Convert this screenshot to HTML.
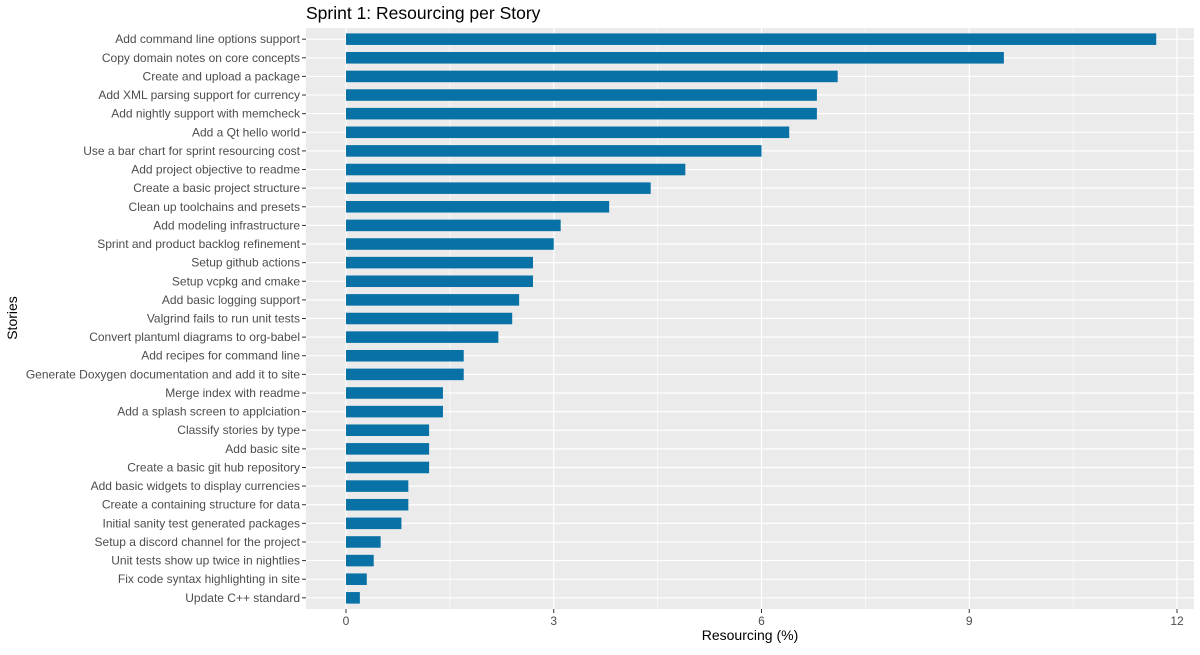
<!DOCTYPE html>
<html><head><meta charset="utf-8"><style>
body{margin:0;background:#fff;}
svg text{font-family:"Liberation Sans",sans-serif;}
</style></head><body>
<svg id="chart" width="1200" height="650" xmlns="http://www.w3.org/2000/svg"></svg>
<script>
const stories = ["Add command line options support","Copy domain notes on core concepts","Create and upload a package","Add XML parsing support for currency","Add nightly support with memcheck","Add a Qt hello world","Use a bar chart for sprint resourcing cost","Add project objective to readme","Create a basic project structure","Clean up toolchains and presets","Add modeling infrastructure","Sprint and product backlog refinement","Setup github actions","Setup vcpkg and cmake","Add basic logging support","Valgrind fails to run unit tests","Convert plantuml diagrams to org-babel","Add recipes for command line","Generate Doxygen documentation and add it to site","Merge index with readme","Add a splash screen to applciation","Classify stories by type","Add basic site","Create a basic git hub repository","Add basic widgets to display currencies","Create a containing structure for data","Initial sanity test generated packages","Setup a discord channel for the project","Unit tests show up twice in nightlies","Fix code syntax highlighting in site","Update C++ standard"];
const resourcing = [11.7,9.5,7.1,6.8,6.8,6.4,6.0,4.9,4.4,3.8,3.1,3.0,2.7,2.7,2.5,2.4,2.2,1.7,1.7,1.4,1.4,1.2,1.2,1.2,0.9,0.9,0.8,0.5,0.4,0.3,0.2];
const xTicks = [0,3,6,9,12];
const xMinor = [1.5,4.5,7.5,10.5];

const svg = document.getElementById('chart');
const NS = "http://www.w3.org/2000/svg";
const P = {l:306, r:1194, t:28, b:609};
const x = v => 346 + v*(1177-346)/12;
const step = (P.b-P.t)/(stories.length-1+1.2);
const y = i => P.t + 0.6*step + i*step;
function mk(tag, attrs){
  const e = document.createElementNS(NS, tag);
  for (const k in attrs) e.setAttribute(k, attrs[k]);
  svg.appendChild(e); return e;
}
let e = mk('rect',{x:P.l,y:P.t,width:P.r-P.l,height:P.b-P.t,fill:'#ebebeb'});


xMinor.forEach(v=>{
  const g = mk('line',{x1:x(v),x2:x(v),y1:P.t,y2:P.b,stroke:'#fff','stroke-width':0.6});
  
  
});
xTicks.forEach(v=>{
  const g = mk('line',{x1:x(v),x2:x(v),y1:P.t,y2:P.b,stroke:'#fff','stroke-width':1.2});
  
  
  const t = mk('line',{x1:x(v),x2:x(v),y1:P.b,y2:P.b+4,stroke:'#333','stroke-width':1});
  
  
  const l = mk('text',{x:x(v),y:P.b+16,'text-anchor':'middle','font-size':12,fill:'#4d4d4d'});
  l.textContent = v;
  
  
});
stories.forEach((s,i)=>{
  const yy = y(i);
  const g = mk('line',{x1:P.l,x2:P.r,y1:yy,y2:yy,stroke:'#fff','stroke-width':1.2});
  
  
  const bh = step*0.62;
  const b = mk('rect',{x:x(0),y:yy-bh/2,width:x(resourcing[i])-x(0),height:bh,fill:'#0872a6'});
  
  
  const t = mk('line',{x1:P.l-4,x2:P.l,y1:yy,y2:yy,stroke:'#333','stroke-width':1});
  
  
  const l = mk('text',{x:P.l-6,y:yy+4,'text-anchor':'end','font-size':12,fill:'#4d4d4d'});
  l.textContent = s;
  
  
});
let tt = mk('text',{x:306,y:19,'font-size':17.5,fill:'#000'});
tt.textContent = 'Sprint 1: Resourcing per Story';


let xt = mk('text',{x:(P.l+P.r)/2,y:640,'text-anchor':'middle','font-size':14,fill:'#000'});
xt.textContent = 'Resourcing (%)';


let yt = mk('text',{x:0,y:0,'text-anchor':'middle','font-size':14,fill:'#000',transform:'translate(17,318) rotate(-90)'});
yt.textContent = 'Stories';


</script>
</body></html>
